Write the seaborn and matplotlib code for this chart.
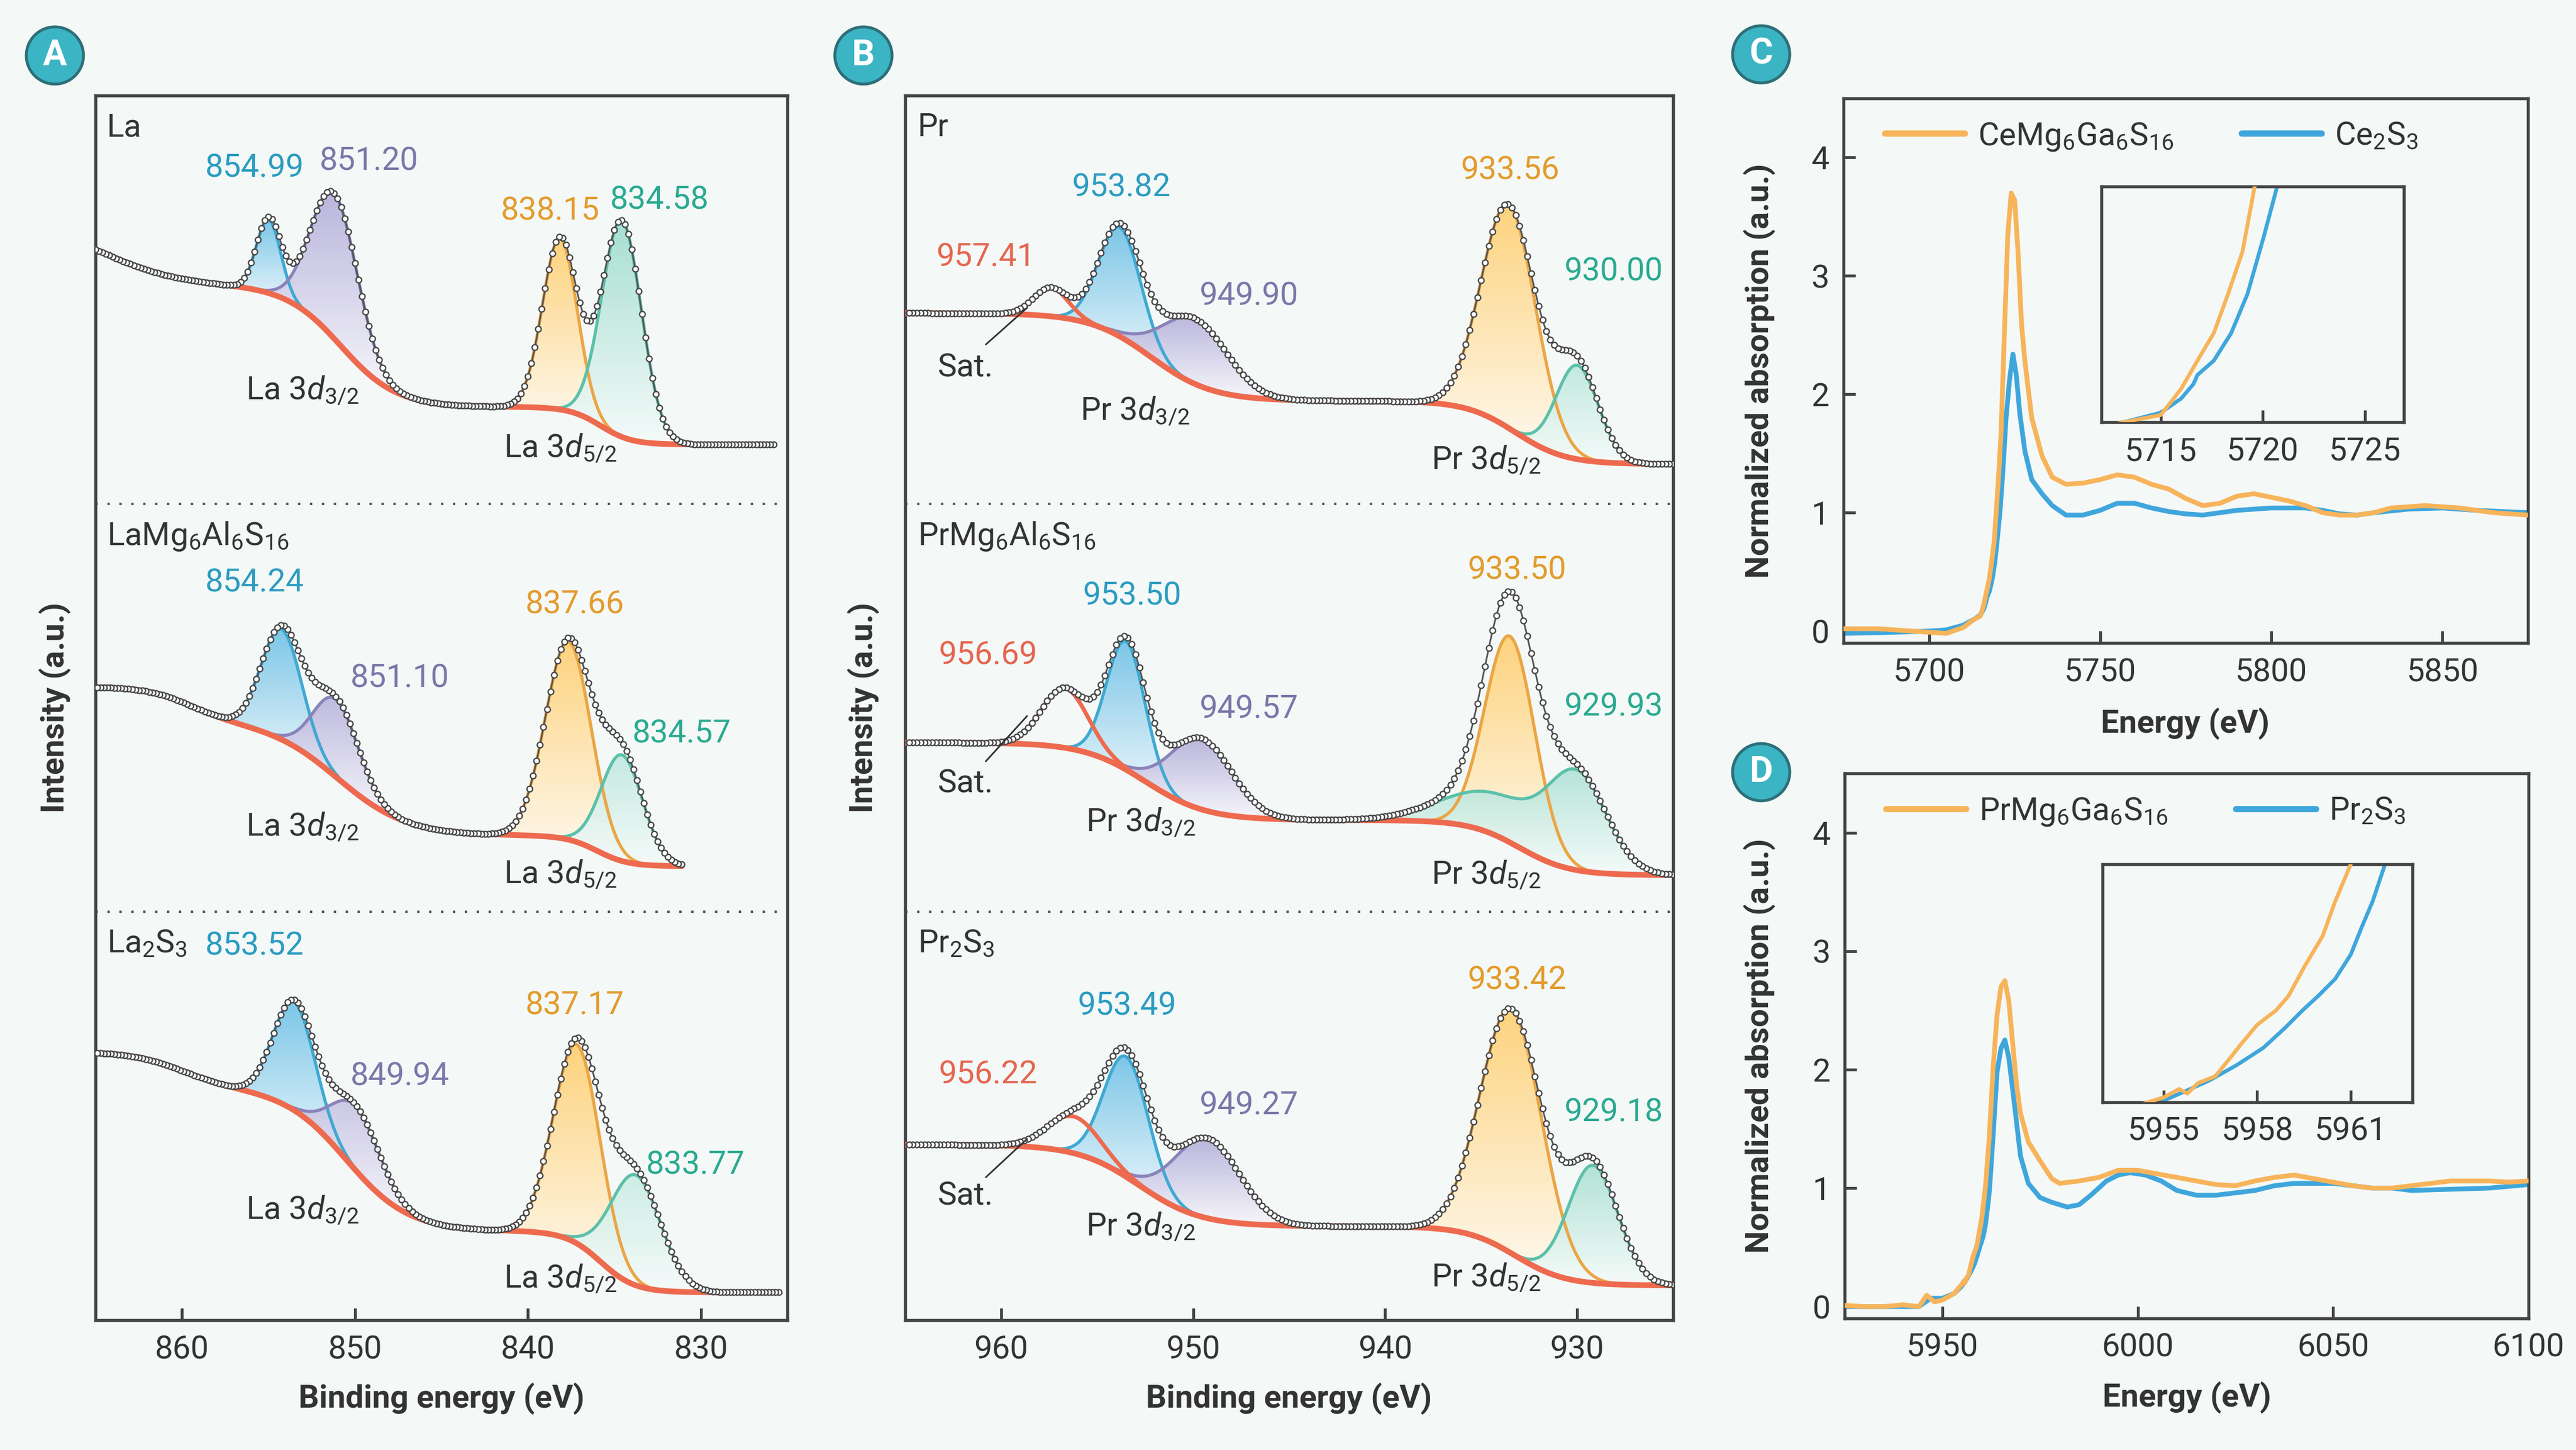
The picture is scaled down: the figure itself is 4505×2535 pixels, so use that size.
import numpy as np
import seaborn as sns
import matplotlib
matplotlib.use("Agg")
import matplotlib.pyplot as plt
from matplotlib.colors import LinearSegmentedColormap, to_rgb
from matplotlib.patches import Ellipse

# ---------------- data ----------------
# Panel A, La 3d XPS. Three stacked spectra, each in its own band (0..1).
LA_NAMES = ["La", "LaMg$_6$Al$_6$S$_{16}$", "La$_2$S$_3$"]
LA_SPAN = [(865.0, 825.8), (865.0, 831.1), (865.0, 825.5)]
# Shirley-like background: base level + logistic steps (centre, height, width)
LA_BASE = [0.145, 0.112, 0.068]
LA_STEP_C = [[835.8, 850.8, 864.5], [836.0, 851.0, 859.5], [835.8, 850.5, 860.0]]
LA_STEP_H = [[0.092, 0.297, 0.16], [0.075, 0.28, 0.085], [0.15, 0.35, 0.09]]
LA_STEP_W = [[0.9, 1.6, 2.2], [0.9, 2.0, 1.3], [1.0, 1.8, 1.5]]
# fitted components: blue, purple, orange, teal
LA_PEAK_C = [[854.99, 851.20, 838.15, 834.58],
             [854.24, 851.10, 837.66, 834.57],
             [853.52, 849.94, 837.17, 833.77]]
LA_PEAK_H = [[0.18, 0.356, 0.42, 0.53],
             [0.27, 0.19, 0.485, 0.26],
             [0.265, 0.157, 0.487, 0.27]]
LA_PEAK_S = [[0.7, 1.35, 1.0, 1.15],
             [1.17, 1.3, 1.32, 1.2],
             [1.2, 1.4, 1.35, 1.45]]

# Panel B, Pr 3d XPS
PR_NAMES = ["Pr", "PrMg$_6$Al$_6$S$_{16}$", "Pr$_2$S$_3$"]
PR_SPAN = [(965.0, 925.0), (965.0, 925.0), (965.0, 925.0)]
PR_BASE = [0.097, 0.09, 0.085]
PR_STEP_C = [[933.2, 952.2], [933.0, 952.5], [933.2, 952.8]]
PR_STEP_H = [[0.155, 0.215], [0.135, 0.19], [0.145, 0.2]]
PR_STEP_W = [[1.3, 1.6], [1.3, 1.6], [1.3, 1.6]]
# components: satellite (red), blue, purple, orange, teal
PR_PEAK_C = [[957.41, 953.82, 949.90, 933.56, 930.00],
             [956.69, 953.50, 949.57, 933.50, 929.93],
             [956.22, 953.49, 949.27, 933.42, 929.18]]
PR_PEAK_H = [[0.07, 0.267, 0.16, 0.547, 0.23],
             [0.146, 0.314, 0.174, 0.505, 0.21],
             [0.09, 0.294, 0.196, 0.598, 0.288]]
PR_PEAK_S = [[0.9, 1.1, 1.7, 1.42, 1.1],
             [1.2, 1.0, 1.6, 1.3, 1.5],
             [1.35, 1.16, 1.7, 1.6, 1.3]]
# broad extra part of the teal component (centre, height, width), middle spectrum only
PR_TEAL_SHOULDER = [None, (934.0, 0.10, 2.8), None]

# Panel C, Ce L3-edge XANES
CE_LABELS = ["CeMg$_6$Ga$_6$S$_{16}$", "Ce$_2$S$_3$"]
CE_E_NEW = [5675, 5685, 5695, 5705, 5710, 5713.2, 5715, 5716, 5716.8, 5717.6, 5718.3, 5719.0,
            5719.6, 5720.3, 5721, 5722, 5723, 5724, 5725, 5726, 5727, 5728, 5730, 5733, 5736,
            5740, 5745, 5750, 5755, 5760, 5765, 5770, 5775, 5780, 5785, 5790, 5795, 5800, 5805,
            5810, 5815, 5820, 5825, 5830, 5835, 5840, 5845, 5850, 5855, 5860, 5865, 5875]
CE_MU_NEW = [0.02, 0.02, 0.0, -0.02, 0.03, 0.1, 0.127, 0.227, 0.335, 0.44, 0.59, 0.75,
             1.0, 1.3, 1.65, 2.5, 3.35, 3.7, 3.64, 3.2, 2.6, 2.28, 1.8, 1.48, 1.3,
             1.24, 1.25, 1.28, 1.32, 1.3, 1.24, 1.2, 1.12, 1.06, 1.08, 1.14, 1.16, 1.13, 1.1,
             1.06, 1.0, 0.98, 0.98, 1.0, 1.04, 1.05, 1.06, 1.05, 1.04, 1.02, 1.0, 0.98]
CE_E_REF = [5675, 5690, 5700, 5705, 5710, 5713.2, 5715, 5716, 5716.6, 5716.8, 5717.6, 5718.45,
            5719.25, 5720.05, 5720.7, 5721.5, 5722.5, 5723.5, 5724.5, 5725.5, 5726.5, 5728,
            5730, 5733, 5736, 5740, 5745, 5750, 5755, 5760, 5765, 5770, 5775, 5780, 5785,
            5790, 5795, 5800, 5810, 5815, 5820, 5825, 5830, 5840, 5850, 5860, 5875]
CE_MU_REF = [-0.02, -0.01, 0.0, 0.01, 0.05, 0.1, 0.136, 0.19, 0.245, 0.28, 0.335, 0.44,
             0.59, 0.81, 1.0, 1.32, 1.8, 2.12, 2.34, 2.16, 1.84, 1.52,
             1.28, 1.16, 1.06, 0.98, 0.98, 1.02, 1.08, 1.08, 1.04, 1.01, 0.99, 0.98, 1.0,
             1.02, 1.03, 1.04, 1.04, 1.02, 0.99, 0.98, 1.0, 1.03, 1.04, 1.02, 1.0]

# Panel D, Pr L3-edge XANES
PRX_LABELS = ["PrMg$_6$Ga$_6$S$_{16}$", "Pr$_2$S$_3$"]
PRX_E_NEW = [5925, 5930, 5935, 5940, 5944, 5946, 5948, 5950, 5953, 5954.5, 5955.0, 5955.5,
             5955.76, 5956.1, 5956.65, 5957.1, 5957.5, 5958.0, 5958.6, 5959.0, 5959.5, 5960.1,
             5960.5, 5961.0, 5962, 5963, 5964, 5965, 5966, 5967, 5968, 5969, 5970, 5972,
             5975, 5978, 5980, 5985, 5990, 5995, 6000, 6005, 6010, 6015, 6020, 6025, 6030,
             6035, 6040, 6045, 6050, 6055, 6060, 6065, 6070, 6075, 6080, 6085, 6090, 6095, 6100]
PRX_MU_NEW = [0.01, 0.0, 0.0, 0.015, 0.0, 0.095, 0.04, 0.055, 0.11, 0.17, 0.187, 0.216,
              0.2, 0.237, 0.26, 0.32, 0.375, 0.44, 0.49, 0.54, 0.64, 0.75,
              0.87, 1.0, 1.43, 2.02, 2.46, 2.7, 2.75, 2.58, 2.22, 1.87, 1.63, 1.39,
              1.23, 1.08, 1.04, 1.06, 1.09, 1.15, 1.15, 1.12, 1.09, 1.06, 1.03, 1.02, 1.06,
              1.09, 1.11, 1.08, 1.05, 1.02, 1.0, 1.0, 1.02, 1.04, 1.06, 1.06, 1.06, 1.05, 1.06]
PRX_E_REF = [5925, 5935, 5944, 5947, 5950, 5953, 5954.88, 5955.6, 5956.45, 5957.35, 5958.2,
             5958.9, 5959.45, 5959.95, 5960.5, 5961.0, 5961.35, 5961.7, 5962.1, 5963, 5964,
             5965, 5966, 5967, 5968, 5969, 5970, 5972, 5975, 5978, 5982, 5985, 5988, 5992,
             5995, 5998, 6002, 6006, 6010, 6015, 6020, 6025, 6030, 6035, 6040, 6045, 6050,
             6055, 6060, 6065, 6070, 6080, 6090, 6100]
PRX_MU_REF = [0.0, 0.0, 0.0, 0.07, 0.07, 0.11, 0.17, 0.204, 0.245, 0.3, 0.36,
              0.43, 0.49, 0.54, 0.6, 0.685, 0.78, 0.87, 1.0, 1.45, 1.98,
              2.18, 2.25, 2.1, 1.83, 1.55, 1.27, 1.04, 0.92, 0.88, 0.84, 0.86, 0.94, 1.06,
              1.11, 1.13, 1.11, 1.06, 0.98, 0.94, 0.94, 0.96, 0.98, 1.02, 1.04, 1.04, 1.04,
              1.02, 1.0, 1.0, 0.98, 0.99, 1.0, 1.03]

# ---------------- style ----------------
BG = "#f4f8f7"
INK = "#333333"
SPINE = "#444444"
RED = "#ee6a4f"
LINE_COLORS = {"blue": "#3fa9d2", "purple": "#8a83b9", "orange": "#eba545", "teal": "#5cc0aa"}
FILL_COLORS = {"blue": "#6ec1e6", "purple": "#b3aeda", "orange": "#ffcf70", "teal": "#9edccd"}
TEXT_COLORS = {"blue": "#2b9cc0", "purple": "#7c76a9", "orange": "#e39b2c", "teal": "#2aaa90", "red": "#e5654f"}
XANES_ORANGE = "#f7b45a"
XANES_BLUE = "#3fa6dc"
FS = 13.5

sns.set_theme(style="ticks")
plt.rcParams["font.family"] = ["Roboto", "DejaVu Sans"]
plt.rcParams.update({
    "mathtext.fontset": "custom",
    "mathtext.rm": "Roboto",
    "mathtext.it": "Roboto:italic",
    "mathtext.bf": "Roboto:bold",
    "axes.facecolor": BG,
    "figure.facecolor": BG,
    "axes.edgecolor": SPINE,
    "axes.linewidth": 1.3,
    "text.color": INK,
})


def bg_curve(E, base, cs, hs, ws):
    y = np.full_like(E, base, dtype=float)
    for c, h, w in zip(cs, hs, ws):
        y = y + h / (1 + np.exp(-(E - c) / w))
    return y


def gauss(E, c, h, s):
    return h * np.exp(-0.5 * ((E - c) / s) ** 2)


def gradient_fill(ax, x, lower, upper, color):
    poly = ax.fill_between(x, lower, upper, facecolor="none", edgecolor="none")
    mask = (upper - lower) > 0.004
    lo, hi = lower[mask].min(), upper.max()
    rgb = np.array(to_rgb(color))
    pale = rgb + (1 - rgb) * 0.9
    cmap = LinearSegmentedColormap.from_list("grad", [pale, rgb])
    grad = np.linspace(0, 1, 256).reshape(-1, 1)
    im = ax.imshow(grad, extent=[x.min(), x.max(), lo, hi], origin="lower", aspect="auto",
                   cmap=cmap, interpolation="bicubic", zorder=1, alpha=0.9)
    im.set_clip_path(poly.get_paths()[0], transform=ax.transData)


def style_axis(ax):
    for s in ax.spines.values():
        s.set_visible(True)
        s.set_color(SPINE)
        s.set_linewidth(1.3)
    ax.tick_params(direction="in", length=5, width=1.2, color=SPINE, labelsize=FS,
                   labelcolor=INK, pad=6)


def draw_xps(ax, names, spans, base, st_c, st_h, st_w, pk_c, pk_h, pk_s, kinds, shoulder=None):
    for k in range(3):
        off = 2 - k
        e_hi, e_lo = spans[k]
        E = np.linspace(e_lo, e_hi, 800)
        bg = bg_curve(E, base[k], st_c[k], st_h[k], st_w[k])

        def model(x):
            parts = []
            for j, kind in enumerate(kinds):
                p = gauss(x, pk_c[k][j], pk_h[k][j], pk_s[k][j])
                if kind == "teal" and shoulder is not None and shoulder[k] is not None:
                    p = p + gauss(x, *shoulder[k])
                parts.append(p)
            return parts

        comps = model(E)
        for kind, p in zip(kinds, comps):
            if kind == "red":
                ax.plot(E, bg + p + off, color=RED, lw=1.7, zorder=3)
                continue
            gradient_fill(ax, E, bg + off, bg + p + off, FILL_COLORS[kind])
            ax.plot(E, bg + p + off, color=LINE_COLORS[kind], lw=1.3, zorder=2)
        ax.plot(E, bg + off, color=RED, lw=2.4, zorder=3.2)
        env = bg + np.sum(comps, axis=0)
        ax.plot(E, env + off, color="#555555", lw=0.7, zorder=3.5)
        Ed = np.arange(e_lo, e_hi, 0.2)
        env_d = bg_curve(Ed, base[k], st_c[k], st_h[k], st_w[k]) + np.sum(model(Ed), axis=0)
        ax.plot(Ed, env_d + off, "o", ms=2.4, mfc="white", mec="#444444", mew=0.55, zorder=4)
        ax.text(spans[k][0] - 0.65, off + 0.9, names[k], fontsize=FS, color=INK,
                ha="left", va="baseline")
    for yy in (1, 2):
        ax.axhline(yy, color="#555555", lw=1.0, ls=(0, (1, 4)), zorder=0.5)
    ax.set_ylim(0, 3)
    ax.set_yticks([])
    style_axis(ax)


W, H = 4505, 2535
fig = plt.figure(figsize=(W / 300, H / 300), dpi=300, facecolor=BG)

# ---------------- panel A ----------------
axA = fig.add_axes([167 / W, 1 - 2308 / H, 1210 / W, 2141 / H])
draw_xps(axA, LA_NAMES, LA_SPAN, LA_BASE, LA_STEP_C, LA_STEP_H, LA_STEP_W,
         LA_PEAK_C, LA_PEAK_H, LA_PEAK_S, ["blue", "purple", "orange", "teal"])
la_text = [
    [(855.8, 0.80), (849.2, 0.817), (838.7, 0.695), (832.4, 0.722)],
    [(855.8, 0.785), (847.4, 0.551), (837.3, 0.731), (831.1, 0.415)],
    [(855.8, 0.894), (847.4, 0.575), (837.3, 0.749), (830.3, 0.358)],
]
la_d32 = [0.255, 0.187, 0.248]
la_d52 = [0.114, 0.07, 0.08]
for k in range(3):
    off = 2 - k
    for j, kind in enumerate(["blue", "purple", "orange", "teal"]):
        x, v = la_text[k][j]
        axA.text(x, off + v, f"{LA_PEAK_C[k][j]:.2f}", color=TEXT_COLORS[kind], fontsize=FS,
                 ha="center", va="baseline")
    axA.text(856.3, off + la_d32[k], "La 3$d_{3/2}$", fontsize=FS, color=INK, ha="left", va="baseline")
    axA.text(841.4, off + la_d52[k], "La 3$d_{5/2}$", fontsize=FS, color=INK, ha="left", va="baseline")
axA.set_xlim(865, 825)
axA.set_xticks([860, 850, 840, 830])

# ---------------- panel B ----------------
axB = fig.add_axes([1583 / W, 1 - 2308 / H, 1343 / W, 2141 / H])
draw_xps(axB, PR_NAMES, PR_SPAN, PR_BASE, PR_STEP_C, PR_STEP_H, PR_STEP_W,
         PR_PEAK_C, PR_PEAK_H, PR_PEAK_S, ["red", "blue", "purple", "orange", "teal"],
         shoulder=PR_TEAL_SHOULDER)
pr_text = [
    [(960.8, 0.582), (953.75, 0.753), (947.1, 0.487), (933.5, 0.795), (928.1, 0.547)],
    [(960.7, 0.607), (953.2, 0.752), (947.1, 0.475), (933.15, 0.815), (928.1, 0.481)],
    [(960.7, 0.58), (953.45, 0.748), (947.1, 0.504), (933.15, 0.81), (928.1, 0.487)],
]
pr_sat = [0.312, 0.293, 0.283]
pr_lead = [((960.8, 0.39), (958.65, 0.48)), ((960.8, 0.369), (958.65, 0.48)),
           ((960.8, 0.35), (958.65, 0.444))]
pr_d32 = [(955.9, 0.205), (955.6, 0.198), (955.6, 0.207)]
pr_d52 = [0.084, 0.069, 0.082]
for k in range(3):
    off = 2 - k
    for j, kind in enumerate(["red", "blue", "purple", "orange", "teal"]):
        x, v = pr_text[k][j]
        axB.text(x, off + v, f"{PR_PEAK_C[k][j]:.2f}", color=TEXT_COLORS[kind], fontsize=FS,
                 ha="center", va="baseline")
    axB.text(963.3, off + pr_sat[k], "Sat.", fontsize=FS, color=INK, ha="left", va="baseline")
    (x1, y1), (x2, y2) = pr_lead[k]
    axB.plot([x1, x2], [off + y1, off + y2], color="#333333", lw=0.7, zorder=5)
    axB.text(pr_d32[k][0], off + pr_d32[k][1], "Pr 3$d_{3/2}$", fontsize=FS, color=INK,
             ha="left", va="baseline")
    axB.text(937.6, off + pr_d52[k], "Pr 3$d_{5/2}$", fontsize=FS, color=INK, ha="left", va="baseline")
axB.set_xlim(965, 925)
axB.set_xticks([960, 950, 940, 930])


# ---------------- panels C and D ----------------
def draw_xanes(rect, inset_rect, e_new, mu_new, e_ref, mu_ref, labels, xlim, xticks,
               in_xlim, in_ylim, in_xticks):
    ax = fig.add_axes(rect)
    sns.lineplot(x=e_new, y=mu_new, ax=ax, color=XANES_ORANGE, lw=2.0, errorbar=None,
                 label=labels[0], zorder=3)
    sns.lineplot(x=e_ref, y=mu_ref, ax=ax, color=XANES_BLUE, lw=2.0, errorbar=None,
                 label=labels[1], zorder=2)
    ax.set_xlim(*xlim)
    ax.set_ylim(-0.1, 4.5)
    ax.set_xticks(xticks)
    ax.set_yticks([0, 1, 2, 3, 4])
    ax.set_xlabel("")
    ax.set_ylabel("")
    style_axis(ax)
    leg = ax.legend(loc="center left", bbox_to_anchor=(0.06, 0.93), ncol=2, frameon=False,
                    fontsize=FS, handlelength=2.5, handletextpad=0.4, columnspacing=2.1,
                    borderaxespad=0, borderpad=0)
    for line in leg.get_lines():
        line.set_linewidth(2.6)

    axi = fig.add_axes(inset_rect)
    axi.set_facecolor(BG)
    sns.lineplot(x=e_new, y=mu_new, ax=axi, color=XANES_ORANGE, lw=1.6, errorbar=None, zorder=3)
    sns.lineplot(x=e_ref, y=mu_ref, ax=axi, color=XANES_BLUE, lw=1.6, errorbar=None, zorder=2)
    axi.set_xlim(*in_xlim)
    axi.set_ylim(*in_ylim)
    axi.set_xticks(in_xticks)
    axi.set_yticks([])
    axi.set_xlabel("")
    axi.set_ylabel("")
    style_axis(axi)
    return ax


axC = draw_xanes([3224 / W, 1 - 1124 / H, 1197 / W, 952 / H],
                 [3675 / W, 1 - 738 / H, 529 / W, 412 / H],
                 CE_E_NEW, CE_MU_NEW, CE_E_REF, CE_MU_REF, CE_LABELS,
                 (5675, 5875), [5700, 5750, 5800, 5850],
                 (5712.1, 5726.9), (0.1, 1.0), [5715, 5720, 5725])
axD = draw_xanes([3226 / W, 1 - 2305 / H, 1196 / W, 953 / H],
                 [3677 / W, 1 - 1927 / H, 542 / W, 416 / H],
                 PRX_E_NEW, PRX_MU_NEW, PRX_E_REF, PRX_MU_REF, PRX_LABELS,
                 (5925, 6100), [5950, 6000, 6050, 6100],
                 (5953.04, 5962.98), (0.17, 1.0), [5955, 5958, 5961])

# ---------------- axis titles ----------------
lab = dict(fontsize=FS, fontweight="bold", color=INK, ha="center", va="center")
fig.text(96 / W, 1 - 1237 / H, "Intensity (a.u.)", rotation=90, **lab)
fig.text(1510 / W, 1 - 1237 / H, "Intensity (a.u.)", rotation=90, **lab)
fig.text(3077 / W, 1 - 648 / H, "Normalized absorption (a.u.)", rotation=90, **lab)
fig.text(3077 / W, 1 - 1828 / H, "Normalized absorption (a.u.)", rotation=90, **lab)
fig.text(772 / W, 1 - 2445 / H, "Binding energy (eV)", **lab)
fig.text(2254 / W, 1 - 2445 / H, "Binding energy (eV)", **lab)
fig.text(3822 / W, 1 - 1265 / H, "Energy (eV)", **lab)
fig.text(3824 / W, 1 - 2443 / H, "Energy (eV)", **lab)

# ---------------- panel letters ----------------
for letter, (cx, cy) in zip("ABCD", [(96, 97), (1510, 97), (3080, 95), (3080, 1350)]):
    fx, fy = cx / W, 1 - cy / H
    fig.add_artist(Ellipse((fx, fy), 100 / W, 100 / H, transform=fig.transFigure,
                           facecolor="#3bb4c4", edgecolor="#2d6f78", lw=1.2, zorder=10))
    fig.text(fx, fy, letter, color="white", fontsize=15, fontweight="bold",
             ha="center", va="center", zorder=11)

fig.savefig("out.png", dpi=300, facecolor=BG)
